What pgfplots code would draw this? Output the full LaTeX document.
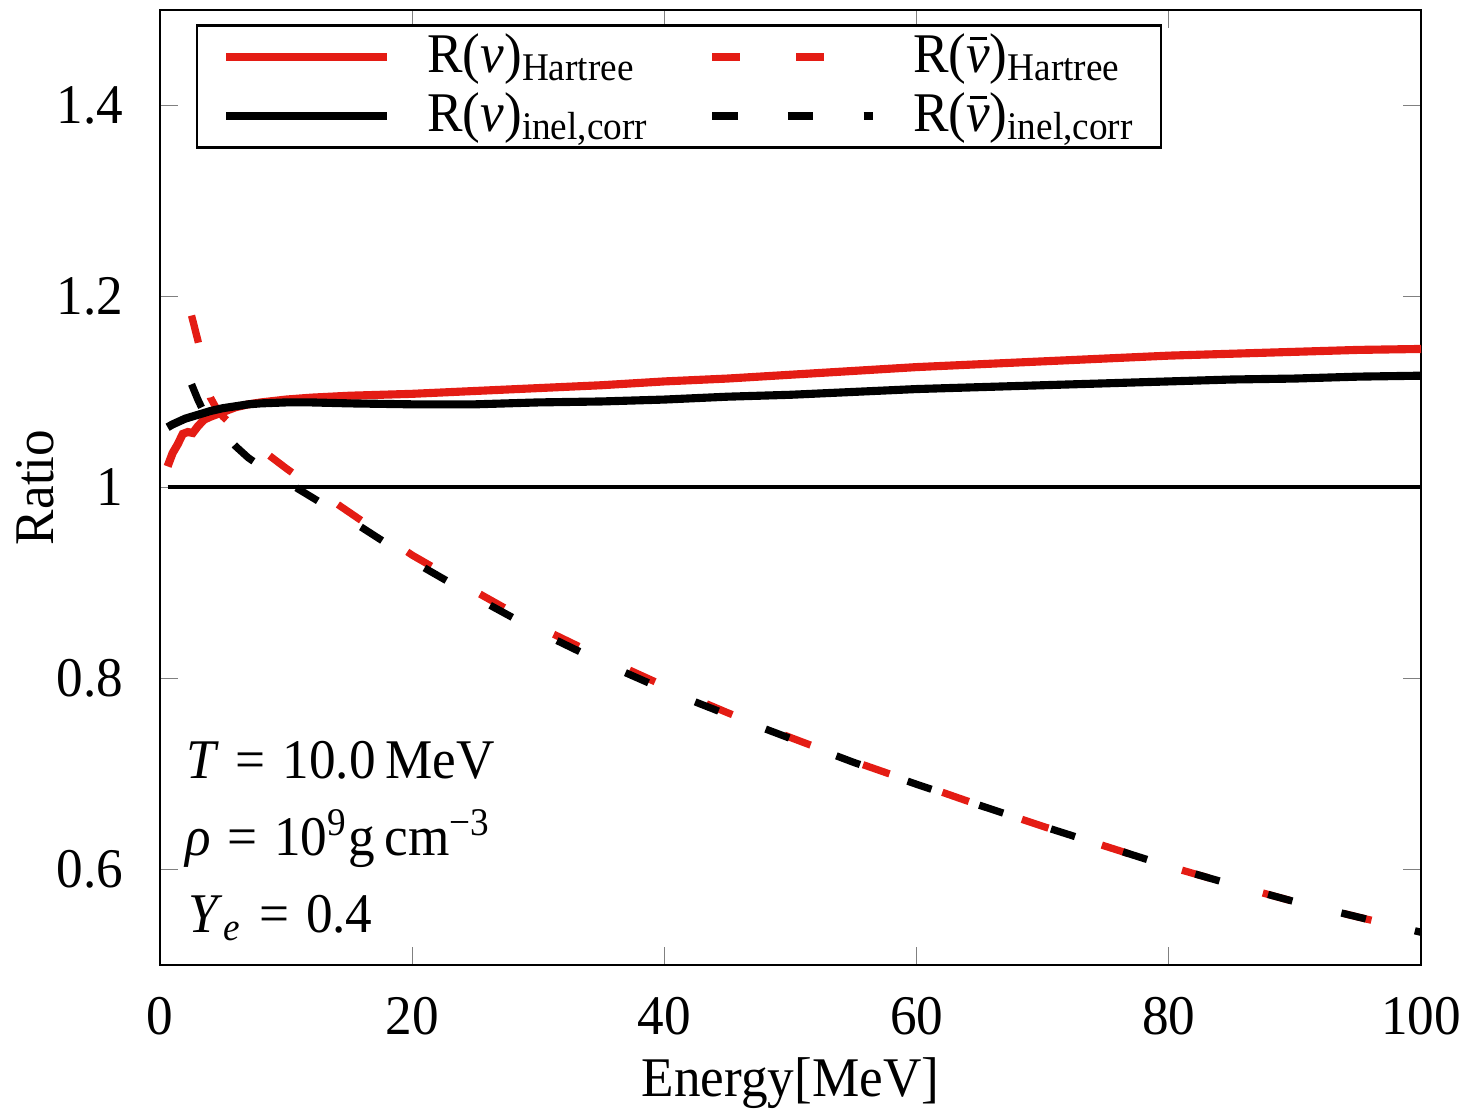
\documentclass[border=0pt]{standalone}
\usepackage{fontspec}
\setmainfont{Liberation Serif}[FakeStretch=0.95]
\usepackage{pgfplots}
\pgfplotsset{compat=1.18}

\definecolor{hred}{RGB}{228,28,20}
\newcommand{\nubar}{\textit{ν}\llap{\rule[0.58em]{0.3em}{0.05em}\hspace{0.05em}}}

\begin{document}
\begin{tikzpicture}
\begin{axis}[
    scale only axis,
    width=225.2pt,
    height=170.5pt,
    xmin=0, xmax=100,
    ymin=0.5, ymax=1.5,
    xtick={0,20,40,60,80,100},
    ytick={0.6,0.8,1,1.2,1.4},
    tick align=inside,
    major tick length=3.2pt,
    /pgf/number format/assume math mode=true,
    xticklabel style={yshift=-2.2pt},
    yticklabel style={xshift=-3pt},
    xlabel={Energy[MeV]},
    ylabel={Ratio},
    xlabel style={at={(axis description cs:0.5,-0.1382)}, anchor=base, inner sep=0pt},
    ylabel style={at={(axis description cs:-0.0833,0.5)}, anchor=south, inner sep=0pt},
    legend columns=2,
    legend cell align=left,
    legend style={
        at={(0.0285,0.985)},
        anchor=north west,
        draw=black,
        line width=0.4pt,
        inner xsep=4.5pt,
        inner ysep=1.4pt,
        nodes={inner xsep=0pt, inner ysep=0pt},
        /tikz/every even column/.append style={column sep=10.5pt},
        row sep=2.1pt
    },
    legend image code/.code={
        \draw[#1] (0pt,0pt) -- (28.75pt,0pt);
        \path (0.7pt,0pt) (35.2pt,0pt);
    },
]

\coordinate (bl) at (rel axis cs:-0.1269,-0.1529);
\coordinate (tr) at (rel axis cs:1.0404,1.0105);

% R(nu) Hartree
\addplot[hred, line width=1.45pt] coordinates {
(0.6,1.022) (1.0,1.036) (1.4,1.045) (1.8,1.056) (2.2,1.058) (2.6,1.057)
(3.0,1.064) (3.5,1.071) (4.0,1.074) (4.8,1.078) (6,1.084) (7,1.087)
(8,1.089) (10,1.092) (12,1.094) (15,1.096) (20,1.098) (25,1.101)
(30,1.104) (35,1.107) (40,1.111) (45,1.114) (50,1.118) (55,1.122)
(60,1.126) (65,1.129) (70,1.132) (75,1.135) (80,1.138) (85,1.140)
(90,1.142) (95,1.144) (100,1.145)
};
\addlegendentry{R(\textit{ν})\textsubscript{Hartree}}

% R(nubar) Hartree
\addplot[hred, line width=1.3pt, dash pattern=on 5pt off 10pt] coordinates {
(2.5,1.180) (3.0,1.154) (3.5,1.125) (4.0,1.094) (4.5,1.082) (5.0,1.074)
(6,1.062) (7,1.050) (8.5,1.035) (10,1.020) (12,1.001) (14,0.983)
(16,0.965) (18,0.947) (20,0.929) (25,0.891) (30,0.854) (35,0.822)
(40,0.792) (45,0.764) (50,0.738) (55,0.713) (60,0.690) (65,0.667)
(70,0.645) (75,0.624) (80,0.603) (85,0.584) (90,0.566) (95,0.550)
(100,0.534)
};
\addlegendentry{R(\nubar)\textsubscript{Hartree}}

% R(nu) inel,corr
\addplot[black, line width=1.45pt] coordinates {
(0.6,1.063) (1,1.066) (2,1.072) (3,1.076) (4,1.080) (5,1.083) (6,1.085)
(7,1.087) (8,1.088) (10,1.089) (12,1.089) (15,1.088) (20,1.087)
(25,1.087) (30,1.089) (35,1.090) (40,1.092) (45,1.095) (50,1.097)
(55,1.100) (60,1.103) (65,1.105) (70,1.107) (75,1.109) (80,1.111)
(85,1.113) (90,1.114) (95,1.116) (100,1.117)
};
\addlegendentry{R(\textit{ν})\textsubscript{inel,corr}}

% R(nubar) inel,corr
\addplot[black, line width=1.3pt, dash pattern=on 4.5pt off 9pt] coordinates {
(2.5,1.108) (3.0,1.092) (3.5,1.078) (4,1.068) (5,1.057) (6,1.043)
(7,1.031) (8,1.022) (10,1.006) (12,0.990) (14,0.974) (16,0.958)
(18,0.941) (20,0.923) (25,0.885) (30,0.849) (35,0.817) (40,0.788)
(45,0.762) (50,0.737) (55,0.712) (60,0.689) (65,0.667) (70,0.645)
(75,0.624) (80,0.603) (85,0.584) (90,0.566) (95,0.550) (100,0.534)
};
\addlegendentry{R(\nubar)\textsubscript{inel,corr}}

% reference line at 1
\addplot[black, line width=0.7pt, forget plot] coordinates {(0.6,1) (100,1)};

\node[anchor=base west, inner sep=0pt] at (axis cs:2.0,0.695)
    {\textit{T}\hspace{3pt}=\hspace{3pt}10.0\,MeV};
\node[anchor=base west, inner sep=0pt] at (axis cs:1.9,0.6146)
    {\textit{ρ}\hspace{3pt}=\hspace{3pt}10\textsuperscript{9}g\,cm\textsuperscript{−3}};
\node[anchor=base west, inner sep=0pt] at (axis cs:2.2,0.534)
    {\textit{Y}\textsubscript{\textit{e}}\hspace{3pt}=\hspace{3pt}0.4};

\end{axis}
\pgfresetboundingbox
\useasboundingbox (bl) rectangle (tr);
\end{tikzpicture}
\end{document}
